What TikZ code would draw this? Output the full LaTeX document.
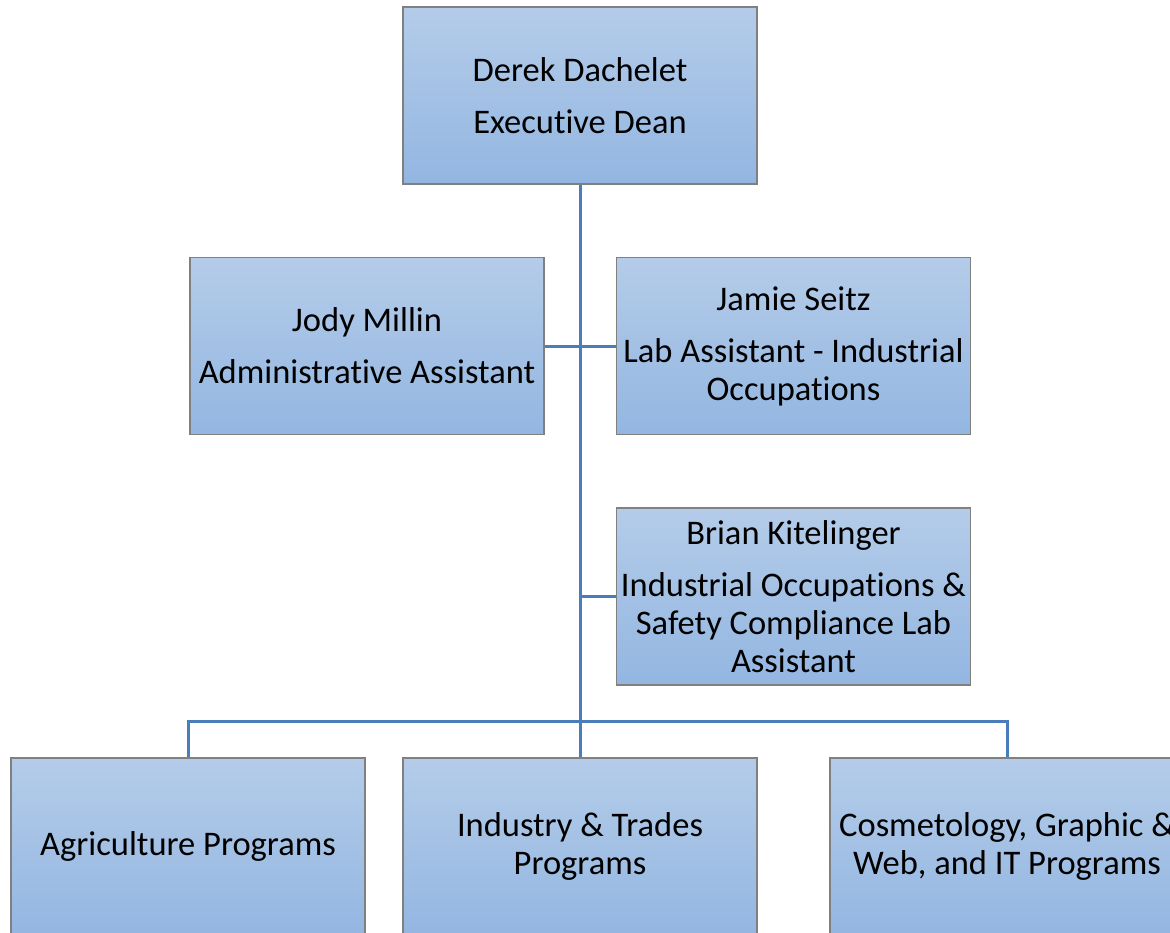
\documentclass[tikz,border=0pt]{standalone}
\usepackage{fontspec}
\setmainfont{Carlito}[Ligatures={NoCommon}]
\definecolor{boxtop}{HTML}{B4CCE9}
\definecolor{boxbot}{HTML}{93B6E1}
\definecolor{linkc}{HTML}{4A7EBB}
\definecolor{edgec}{HTML}{808080}
\tikzset{
  orgbox/.style={rectangle, draw=edgec, line width=1.5pt, top color=boxtop, bottom color=boxbot,
    minimum width=354pt, minimum height=177pt, inner sep=0pt, align=center,
    font=\fontsize{34.5pt}{38pt}\selectfont, text=black},
  link/.style={draw=linkc, line width=3pt}
}
\begin{document}
\begin{tikzpicture}[x=1pt,y=-1pt]
\useasboundingbox (0,0) rectangle (1170,933);
\node[orgbox] (dean) at (580,95.5) {Derek Dachelet\\[14pt]Executive Dean};
\node[orgbox] (jody) at (367,346) {Jody Millin\\[14pt]Administrative Assistant};
\node[orgbox] (jamie) at (793.5,346) {Jamie Seitz\\[14pt]Lab Assistant - Industrial\\Occupations};
\node[orgbox] (brian) at (793.5,596.5) {Brian Kitelinger\\[14pt]Industrial Occupations \&\\Safety Compliance Lab\\Assistant};
\node[orgbox] (agri) at (188,846.5) {Agriculture Programs};
\node[orgbox] (ind) at (580,846.5) {Industry \& Trades\\Programs};
\node[orgbox] (cos) at (1007,846.5) {Cosmetology, Graphic \&\\Web, and IT Programs};
\coordinate (bus) at (580,721);
\draw[link] (dean.south) -- (ind.north);
\draw[link] (jody.east) -- (jamie.west);
\draw[link] (dean.south |- brian.west) -- (brian.west);
\draw[link] (agri.north) -- (agri.north |- bus) -- (cos.north |- bus) -- (cos.north);
\end{tikzpicture}
\end{document}
